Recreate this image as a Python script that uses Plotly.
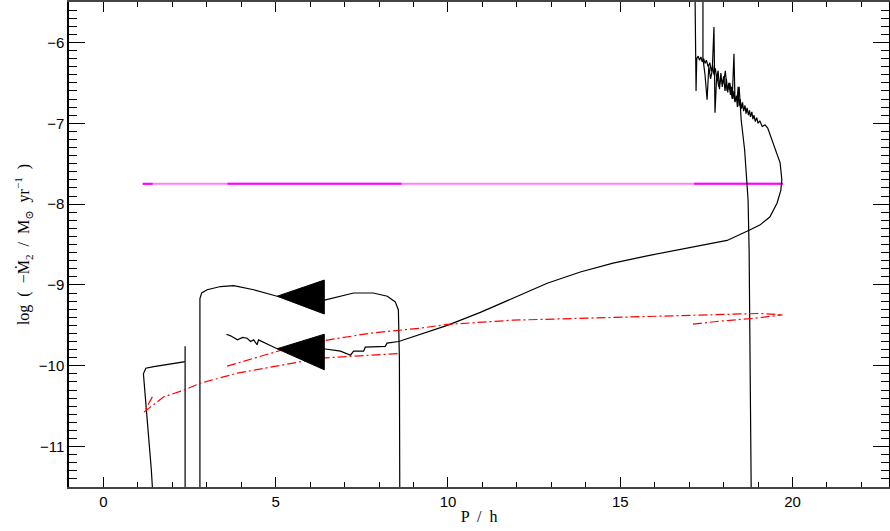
import plotly.graph_objects as go

# ---------------- data (P in hours, log Mdot) ----------------
# main evolutionary track (jagged start, arrow, long rise, turn-over, noisy top)
main_p = [3.57, 3.69, 3.89, 4.04, 4.17, 4.27, 4.36, 4.46, 4.50, 4.94, 5.04, 6.39, 6.88,
          7.17, 7.22, 7.26, 7.55, 7.60, 8.18, 8.23, 8.57, 9.20, 9.98, 10.94, 11.89, 12.88,
          13.84, 14.79, 15.78, 16.73, 17.11, 18.10, 18.71, 19.05, 19.34, 19.55, 19.66,
          19.69, 19.64, 19.43, 19.28,
          19.20, 19.12, 19.05, 19.00, 18.96, 18.92, 18.88, 18.85, 18.82, 18.78, 18.75,
          18.72, 18.68, 18.65, 18.62, 18.58, 18.55, 18.52, 18.48, 18.45, 18.42, 18.40,
          18.37, 18.33, 18.30, 18.27, 18.23, 18.20, 18.15, 18.12, 18.08, 18.04, 18.00,
          17.96, 17.92, 17.88, 17.84, 17.80, 17.76, 17.72, 17.68, 17.64, 17.60, 17.55,
          17.50, 17.46, 17.42, 17.38, 17.34, 17.30, 17.26, 17.22, 17.20, 17.19, 17.17,
          17.17]
main_m = [-9.61, -9.63, -9.68, -9.65, -9.66, -9.70, -9.68, -9.74, -9.68, -9.77, -9.79,
          -9.79, -9.82, -9.87, -9.84, -9.82, -9.82, -9.77, -9.76, -9.72, -9.70, -9.61,
          -9.50, -9.34, -9.16, -8.98, -8.84, -8.73, -8.64, -8.56, -8.53, -8.45, -8.33,
          -8.26, -8.16, -7.99, -7.83, -7.70, -7.49, -7.25, -7.06,
          -7.02, -7.04, -6.97, -7.00, -6.93, -6.98, -6.90, -6.95, -6.86, -6.92, -6.84,
          -6.90, -6.81, -6.88, -6.78, -6.85, -6.74, -6.82, -6.70, -6.79, -6.55, -6.80,
          -6.66, -6.74, -6.60, -6.70, -6.55, -6.65, -6.50, -6.62, -6.45, -6.60, -6.42,
          -6.55, -6.38, -6.58, -6.35, -6.45, -6.32, -6.40, -6.28, -6.36, -6.25, -6.30,
          -6.22, -6.26, -6.20, -6.24, -6.18, -6.22, -6.17, -6.20, -6.60, -6.20, -6.22,
          -5.40]

# second track: noisy top, then straight drop at P ~ 18.8 h
drop_p = [17.40, 17.40, 17.46, 17.52, 17.57, 17.62, 17.67, 17.72, 17.75, 17.80, 17.86,
          17.92, 18.00, 18.05, 18.10, 18.18, 18.25, 18.30, 18.33, 18.37, 18.45, 18.51,
          18.61, 18.68, 18.71, 18.74, 18.76, 18.78, 18.80]
drop_m = [-5.40, -6.20, -6.40, -6.71, -6.30, -6.45, -6.35, -5.81, -6.87, -6.40, -6.55,
          -6.45, -6.50, -6.35, -6.60, -6.50, -6.70, -6.14, -6.72, -6.71, -6.55, -6.96,
          -7.33, -7.74, -7.95, -8.57, -9.32, -10.00, -11.50]

# plateau track between 2.8 h and 8.6 h
plat_p = [2.80, 2.80, 2.85, 3.01, 3.40, 3.78, 4.36, 5.04, 6.39, 6.79, 7.26, 7.83, 8.24,
          8.47, 8.56, 8.59, 8.60]
plat_m = [-11.50, -9.17, -9.10, -9.06, -9.02, -9.01, -9.06, -9.14, -9.19, -9.15, -9.10,
          -9.10, -9.14, -9.21, -9.31, -9.93, -11.50]

# short-period track near 1.2 - 2.4 h
short_p = [1.42, 1.39, 1.16, 1.23, 1.46, 2.34, 2.37, 2.37, 2.37]
short_m = [-11.50, -11.29, -10.10, -10.03, -10.01, -9.95, -9.95, -9.76, -11.50]

# red dash-dot tracks
red1_p = [1.42, 1.18, 1.37, 1.75, 2.33, 2.82, 3.88, 4.85, 6.30, 7.26, 8.62]
red1_m = [-10.385, -10.571, -10.509, -10.385, -10.302, -10.215, -10.092, -10.014,
          -9.906, -9.881, -9.848]
red2_p = [3.59, 5.33, 6.49, 7.75, 9.20, 9.97, 11.89, 13.84, 16.73, 18.10, 19.05, 19.71]
red2_m = [-10.005, -9.786, -9.683, -9.597, -9.535, -9.489, -9.436, -9.411, -9.382,
          -9.365, -9.353, -9.370]
red3_p = [17.11, 17.89, 18.85, 19.71]
red3_m = [-9.485, -9.448, -9.415, -9.370]

# magenta constant-rate line
mag_level = -7.75
mag_p = [1.14, 19.72]
mag_dark_segments = [[1.14, 1.43], [3.60, 8.65], [17.14, 19.72]]

# direction arrows: tip (P, logM), base P, base top/bottom logM
arrow_tip_p = [5.04, 5.04]
arrow_tip_m = [-9.14, -9.79]
arrow_base_p = [6.41, 6.41]
arrow_base_top = [-8.94, -9.61]
arrow_base_bot = [-9.36, -10.05]

x_ticks = [0, 5, 10, 15, 20]
y_ticks = [-11, -10, -9, -8, -7, -6]

# ---------------- figure ----------------
fig = go.Figure()

blk = dict(color="black", width=1.2)
fig.add_trace(go.Scatter(x=mag_p, y=[mag_level] * len(mag_p), mode="lines",
                         line=dict(color="#ff80ff", width=2)))
for seg in mag_dark_segments:
    fig.add_trace(go.Scatter(x=seg, y=[mag_level] * len(seg), mode="lines",
                             line=dict(color="#ff00ff", width=2)))

for px_, m_ in [(main_p, main_m), (drop_p, drop_m), (plat_p, plat_m), (short_p, short_m)]:
    fig.add_trace(go.Scatter(x=px_, y=m_, mode="lines", line=blk))

for px_, m_ in [(red1_p, red1_m), (red2_p, red2_m), (red3_p, red3_m)]:
    fig.add_trace(go.Scatter(x=px_, y=m_, mode="lines",
                             line=dict(color="red", width=1.2, dash="9px,3px,2px,3px")))

for i in range(len(arrow_tip_p)):
    fig.add_trace(go.Scatter(
        x=[arrow_tip_p[i], arrow_base_p[i], arrow_base_p[i], arrow_tip_p[i]],
        y=[arrow_tip_m[i], arrow_base_top[i], arrow_base_bot[i], arrow_tip_m[i]],
        mode="lines", fill="toself", fillcolor="black",
        line=dict(color="black", width=1)))

tick_font = dict(family="Liberation Sans, DejaVu Sans, sans-serif", size=15, color="black")
title_font = dict(family="Liberation Serif, DejaVu Serif, serif", size=16, color="black")

fig.update_layout(
    width=890, height=531,
    margin=dict(l=69, r=1, t=2, b=44),
    paper_bgcolor="white", plot_bgcolor="white",
    showlegend=False,
)
fig.update_xaxes(
    range=[-1, 22.8], tickvals=x_ticks, ticks="inside", ticklen=10, tickwidth=1,
    tickcolor="black", mirror="ticks", showline=True, linecolor="#444", linewidth=2,
    showgrid=False, zeroline=False, tickfont=tick_font, automargin=False,
    minor=dict(dtick=1, ticks="inside", ticklen=5, tickcolor="black", showgrid=False),
    title=dict(text="P  /  h", font=title_font, standoff=2),
)
fig.update_yaxes(
    range=[-11.5, -5.5], tickvals=y_ticks, ticks="inside", ticklen=16, tickwidth=1,
    tickcolor="black", mirror="ticks", showline=True, linecolor="black", linewidth=1.5,
    showgrid=False, zeroline=False, tickfont=tick_font, automargin=False,
    minor=dict(dtick=0.1, ticks="inside", ticklen=8, tickcolor="black", showgrid=False),
    title=dict(text="log  (  −Ṁ<sub>2</sub>  /  M<sub>⊙</sub>  yr<sup>−1</sup>  )",
               font=title_font, standoff=5),
)

fig.write_html("out.html", config={"displayModeBar": False},
               post_script="document.body.style.margin='0';document.body.style.padding='0';")
